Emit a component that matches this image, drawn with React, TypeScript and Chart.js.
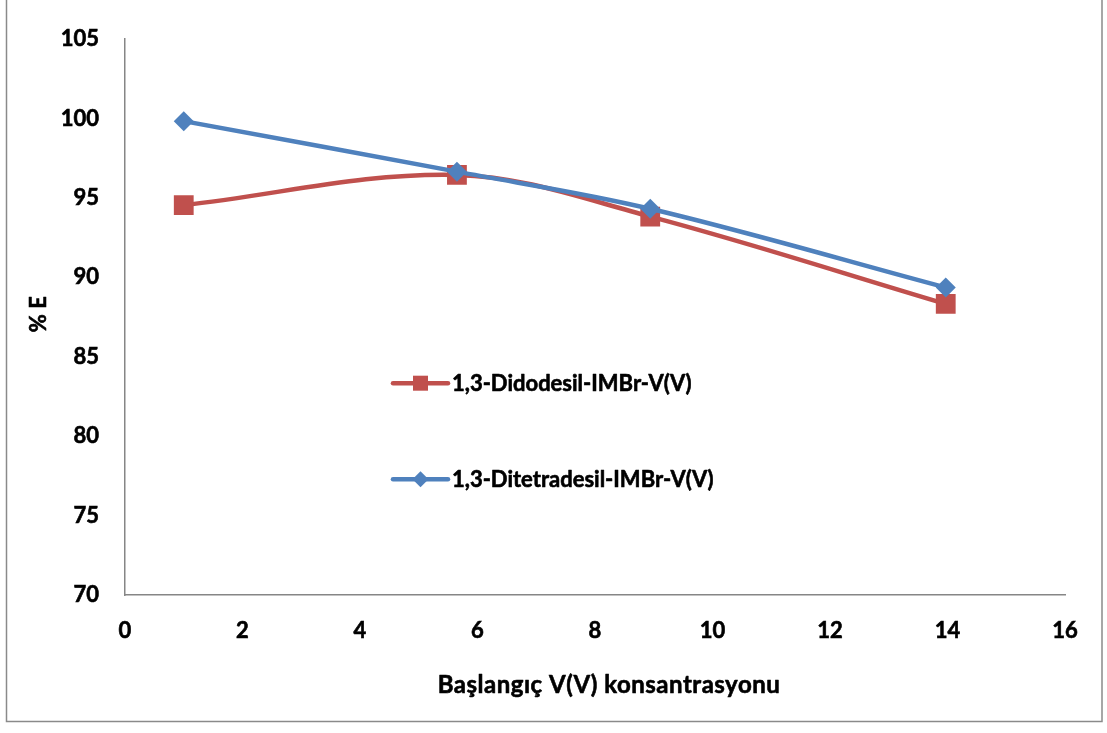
import React, { useEffect, useRef } from "react";
import { Chart, registerables } from "chart.js";

Chart.register(...registerables);

const xValues = [1, 5.65, 8.94, 13.97];
const seriesRed = [94.55, 96.45, 93.83, 88.33];
const seriesBlue = [99.84, 96.66, 94.32, 89.36];
const seriesNames = ["1,3-Didodesil-IMBr-V(V)", "1,3-Ditetradesil-IMBr-V(V)"];
const xTitle = "Başlangıç V(V) konsantrasyonu";
const yTitle = "% E";
const xTicks = { min: 0, max: 16, step: 2 };
const yTicks = { min: 70, max: 105, step: 5 };

const RED = "#C0504D";
const BLUE = "#4F81BD";
const AXIS = "#868686";
const FONT = "Lato, 'Open Sans', sans-serif";

function boldText(ctx: CanvasRenderingContext2D, text: string, x: number, y: number) {
  ctx.lineWidth = 0.6;
  ctx.strokeStyle = "#000";
  ctx.lineJoin = "round";
  ctx.strokeText(text, x, y);
  ctx.fillText(text, x, y);
}

export default function App() {
  const ref = useRef<HTMLCanvasElement | null>(null);

  useEffect(() => {
    if (!ref.current) return;

    const decor = {
      id: "decor",
      beforeDraw(chart: any) {
        const ctx = chart.ctx;
        ctx.save();
        ctx.fillStyle = "#ffffff";
        ctx.fillRect(0, 0, chart.width, chart.height);
        ctx.strokeStyle = "#8a8a8a";
        ctx.lineWidth = 1.5;
        ctx.strokeRect(6.5, -2, 1095.5, 723.5);
        ctx.restore();
      },
      afterDraw(chart: any) {
        const ctx = chart.ctx;
        const a = chart.chartArea;
        ctx.save();
        ctx.fillStyle = "#000";
        ctx.textAlign = "center";
        ctx.textBaseline = "middle";
        ctx.font = `bold 24px ${FONT}`;
        (ctx as any).letterSpacing = "0.5px";
        boldText(ctx, xTitle, a.left + 484, a.bottom + 90);
        (ctx as any).letterSpacing = "0px";
        ctx.font = `bold 22px ${FONT}`;
        ctx.save();
        ctx.translate(39, a.top + 275);
        ctx.rotate(-Math.PI / 2);
        boldText(ctx, yTitle, 0, 0);
        ctx.restore();

        // legend
        const items = [
          { name: seriesNames[0], color: RED, style: "rect", y: a.top + 344 },
          { name: seriesNames[1], color: BLUE, style: "diamond", y: a.top + 440 },
        ];
        const lx0 = a.left + 268;
        const lx1 = a.left + 323;
        for (const it of items) {
          ctx.strokeStyle = it.color;
          ctx.lineWidth = 4.5;
          ctx.lineCap = "round";
          ctx.beginPath();
          ctx.moveTo(lx0, it.y);
          ctx.lineTo(lx1, it.y);
          ctx.stroke();
          ctx.fillStyle = it.color;
          const cx = (lx0 + lx1) / 2;
          if (it.style === "rect") {
            ctx.fillRect(cx - 7.5, it.y - 7.5, 15, 15);
          } else {
            ctx.beginPath();
            ctx.moveTo(cx, it.y - 8);
            ctx.lineTo(cx + 8, it.y);
            ctx.lineTo(cx, it.y + 8);
            ctx.lineTo(cx - 8, it.y);
            ctx.closePath();
            ctx.fill();
          }
          ctx.fillStyle = "#000";
          ctx.textAlign = "left";
          ctx.lineCap = "butt";
          boldText(ctx, it.name, lx1 + 4, it.y + 1);
        }
        ctx.restore();
      },
    };

    const tickFont = { family: FONT, size: 22, weight: "bold" };

    const chart = new Chart(ref.current, {
      type: "line",
      data: {
        datasets: [
          {
            label: seriesNames[0],
            data: xValues.map((x, i) => ({ x, y: seriesRed[i] })),
            borderColor: RED,
            backgroundColor: RED,
            borderWidth: 4.5,
            pointStyle: "rect",
            pointRadius: 14,
            pointBorderWidth: 0,
            tension: 0.35,
            order: 2,
          },
          {
            label: seriesNames[1],
            data: xValues.map((x, i) => ({ x, y: seriesBlue[i] })),
            borderColor: BLUE,
            backgroundColor: BLUE,
            borderWidth: 4.5,
            pointStyle: "rectRot",
            pointRadius: 10,
            pointBorderWidth: 0,
            tension: 0.35,
            order: 1,
          },
        ],
      },
      plugins: [decor],
      options: {
        responsive: false,
        animation: false,
        layout: { padding: { left: 0, top: 37, right: 42, bottom: 0 } },
        plugins: {
          legend: { display: false },
          tooltip: { enabled: false },
        },
        scales: {
          x: {
            type: "linear",
            min: xTicks.min,
            max: xTicks.max,
            afterFit: (s: any) => {
              s.height = 138;
            },
            grid: { display: false, drawTicks: false },
            border: { display: true, color: AXIS, width: 1.5 },
            ticks: {
              stepSize: xTicks.step,
              padding: 23,
              color: "#000",
              textStrokeColor: "#000",
              textStrokeWidth: 0.6,
              font: tickFont,
            },
          },
          y: {
            type: "linear",
            min: yTicks.min,
            max: yTicks.max,
            afterFit: (s: any) => {
              s.width = 125;
            },
            grid: { display: false, drawTicks: false },
            border: { display: true, color: AXIS, width: 1.5 },
            ticks: {
              stepSize: yTicks.step,
              padding: 26,
              color: "#000",
              textStrokeColor: "#000",
              textStrokeWidth: 0.6,
              font: tickFont,
            },
          },
        },
      },
    } as any);

    return () => chart.destroy();
  }, []);

  return (
    <div style={{ position: "absolute", left: 0, top: 0, width: 1107, height: 733 }}>
      <canvas ref={ref} width={1107} height={733} />
    </div>
  );
}
